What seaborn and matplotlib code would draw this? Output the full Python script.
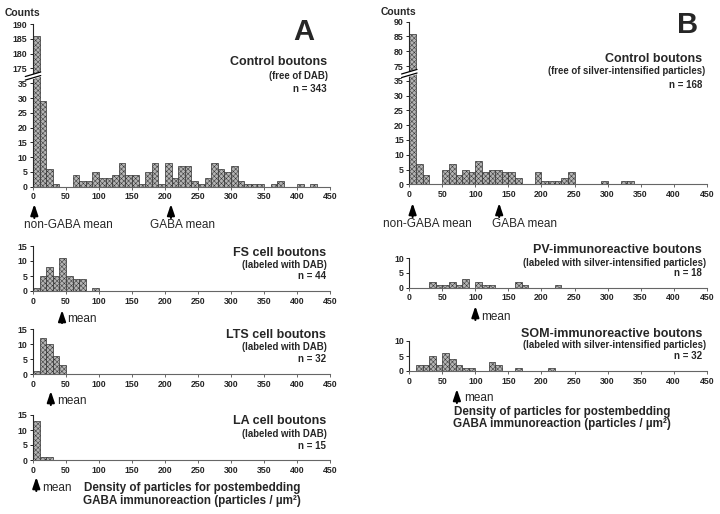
import numpy as np
import pandas as pd
import matplotlib
matplotlib.use("Agg")
import matplotlib.pyplot as plt
import matplotlib.transforms as mtransforms
import seaborn as sns

# ─────────────────────────────────────────────
# Data (counts per 10-unit bin, starting at 0)
# ─────────────────────────────────────────────
BIN_WIDTH = 10

A_CONTROL = [186, 29, 6, 1, 0, 0, 4, 2, 2, 5, 3, 3, 4, 8, 4, 4, 1, 5, 8, 1,
             8, 3, 7, 7, 2, 1, 3, 8, 6, 5, 7, 2, 1, 1, 1, 0, 1, 2, 0, 0,
             1, 0, 1]
A_FS = [1, 5, 8, 5, 11, 5, 4, 4, 0, 1]
A_LTS = [1, 12, 10, 6, 3]
A_LA = [13, 1, 1]

B_CONTROL = [86, 7, 3, 0, 0, 5, 7, 3, 5, 4, 8, 4, 5, 5, 4, 4, 2, 0, 0, 4,
             1, 1, 1, 2, 4, 0, 0, 0, 0, 1, 0, 0, 1, 1]
B_PV = [0, 0, 0, 2, 1, 1, 2, 1, 3, 0, 2, 1, 1, 0, 0, 0, 2, 1, 0, 0,
        0, 0, 1]
B_SOM = [0, 2, 2, 5, 2, 6, 4, 2, 1, 1, 0, 0, 3, 2, 0, 0, 1, 0, 0, 0,
         0, 1]

# mean markers (density units)
A_MEANS = {"non-GABA": 2, "GABA": 209, "FS": 44, "LTS": 27, "LA": 5}
B_MEANS = {"non-GABA": 5, "GABA": 136, "PV": 100, "SOM": 72}

A_TICKS_Y = [0, 5, 10, 15, 20, 25, 30, 35, 175, 180, 185, 190]
B_TICKS_Y = [0, 5, 10, 15, 20, 25, 30, 35, 75, 80, 85, 90]
X_TICKS = list(range(0, 451, 50))

W, H = 720, 514
BAR_KW = dict(color="#b4b4b4", edgecolor="#333333", linewidth=0.5,
              alpha=1, hatch="xxxxxxx")

# text sizes
TITLE_FS = 9
SUB_FS = 6.9
N_FS = 7
NOTE_FS = 8.5
TICK_FS = 6.3

sns.set_style("ticks")
plt.rcParams["font.family"] = ["Liberation Sans", "DejaVu Sans"]
plt.rcParams["hatch.linewidth"] = 0.35


def fx(px):
    return px / W


def fy(py):
    return 1 - py / H


def broken_scale(lo, hi, eps=1e-3):
    gap = hi - lo

    def fwd(y):
        y = np.asarray(y, float)
        return np.where(y <= lo, y,
                        np.where(y >= hi, y - gap + gap * eps,
                                 lo + (y - lo) * eps))

    def inv(d):
        d = np.asarray(d, float)
        top = lo + gap * eps
        return np.where(d <= lo, d,
                        np.where(d >= top, d + gap - gap * eps,
                                 lo + (d - lo) / eps))
    return fwd, inv


def make_panel(fig, counts, left, right, top, bottom, ymax, yticks,
               brk=None):
    ax = fig.add_axes([fx(left), fy(bottom), fx(right - left),
                       (bottom - top) / H])
    df = pd.DataFrame({
        "density": np.arange(len(counts)) * BIN_WIDTH + BIN_WIDTH / 2,
        "count": counts,
    })
    sns.histplot(data=df, x="density", weights="count", binwidth=BIN_WIDTH,
                 binrange=(0, BIN_WIDTH * len(counts)), ax=ax, **BAR_KW)
    if brk is not None:
        fwd, inv = broken_scale(*brk)
        ax.set_yscale("function", functions=(fwd, inv))
    ax.set_xlim(0, 450)
    ax.set_ylim(0, ymax)
    ax.set_xticks(X_TICKS)
    ax.set_yticks(yticks)
    ax.set_xlabel("")
    ax.set_ylabel("")
    ax.tick_params(axis="both", labelsize=TICK_FS, length=2.5, width=0.7,
                   pad=1.5)
    for lab in ax.get_xticklabels() + ax.get_yticklabels():
        lab.set_fontweight("bold")
    ax.xaxis.set_minor_locator(matplotlib.ticker.NullLocator())
    ax.yaxis.set_minor_locator(matplotlib.ticker.NullLocator())
    sns.despine(ax=ax)
    ax.spines["left"].set_linewidth(0.8)
    ax.spines["bottom"].set_linewidth(0.8)
    ax.spines["bottom"].set_color("#666666")
    ax.tick_params(axis="x", color="#666666")

    if brk is not None:
        # "//" break marks on the y axis
        fwd, _ = broken_scale(*brk)
        yb = float(fwd(brk[0]) / fwd(ymax))
        trans = ax.transAxes
        dx = 0.026
        xs = np.array([-dx, dx])
        ys = np.array([-0.014, 0.014])
        off = 0.011
        ax.fill_between(xs, yb + ys - off, yb + ys + off, color="white",
                        transform=trans, clip_on=False, zorder=5)
        for s in (-off, off):
            ax.plot(xs, yb + ys + s, color="black", lw=0.9,
                    transform=trans, clip_on=False, zorder=6)
    return ax


def arrow(fig, ax, xd, y_tail, y_head):
    tr = mtransforms.blended_transform_factory(ax.transData, fig.transFigure)
    ax.annotate("", xy=(xd, fy(y_head)), xytext=(xd, fy(y_tail)),
                xycoords=tr, textcoords=tr, annotation_clip=False,
                arrowprops=dict(arrowstyle="-|>,head_width=0.22,head_length=0.65",
                                color="black", lw=1.5, mutation_scale=10,
                                shrinkA=0, shrinkB=0))


def rtext(fig, x, y, s, size, weight="bold", ha="right"):
    fig.text(fx(x), fy(y), s, fontsize=size, fontweight=weight, ha=ha,
             va="center")


fig = plt.figure(figsize=(W / 100, H / 100), dpi=100)

# ── Panel A ──
axA = make_panel(fig, A_CONTROL, 33, 330, 24, 186.7, 190, A_TICKS_Y,
                 brk=(37.5, 172.5))
axFS = make_panel(fig, A_FS, 33, 330, 246, 291, 15, [0, 5, 10, 15])
axLTS = make_panel(fig, A_LTS, 33, 330, 329.3, 374.3, 15, [0, 5, 10, 15])
axLA = make_panel(fig, A_LA, 33, 330, 415, 460, 15, [0, 5, 10, 15])

# ── Panel B ──
axB = make_panel(fig, B_CONTROL, 409.3, 706.7, 21.7, 184.3, 90, B_TICKS_Y,
                 brk=(37.5, 72.5))
axPV = make_panel(fig, B_PV, 409.3, 706.7, 258, 287.5, 10, [0, 5, 10])
axSOM = make_panel(fig, B_SOM, 409.3, 706.7, 341, 371, 10, [0, 5, 10])

# ── Labels A ──
rtext(fig, 5, 13, "Counts", 7.5, ha="left")
rtext(fig, 304, 32, "A", 21, ha="center")
rtext(fig, 327, 62, "Control boutons", TITLE_FS)
rtext(fig, 328, 76, "(free of DAB)", SUB_FS)
rtext(fig, 327, 89, "n = 343", N_FS)
arrow(fig, axA, A_MEANS["non-GABA"], 218, 204)
arrow(fig, axA, A_MEANS["GABA"], 218, 204)
rtext(fig, 68, 225, "non-GABA mean", NOTE_FS, weight="normal", ha="center")
rtext(fig, 183, 225, "GABA mean", NOTE_FS, weight="normal", ha="center")

rtext(fig, 326, 253, "FS cell boutons", TITLE_FS)
rtext(fig, 327, 265, "(labeled with DAB)", SUB_FS)
rtext(fig, 326, 276, "n = 44", N_FS)
arrow(fig, axFS, A_MEANS["FS"], 323, 310)
rtext(fig, 67, 319, "mean", NOTE_FS, weight="normal", ha="left")

rtext(fig, 326, 334.5, "LTS cell boutons", TITLE_FS)
rtext(fig, 327, 347, "(labeled with DAB)", SUB_FS)
rtext(fig, 326, 358.5, "n = 32", N_FS)
arrow(fig, axLTS, A_MEANS["LTS"], 405, 391)
rtext(fig, 57, 401.5, "mean", NOTE_FS, weight="normal", ha="left")

rtext(fig, 326, 421.5, "LA cell boutons", TITLE_FS)
rtext(fig, 327, 434, "(labeled with DAB)", SUB_FS)
rtext(fig, 326, 446, "n = 15", N_FS)
arrow(fig, axLA, A_MEANS["LA"], 491, 477)
rtext(fig, 42, 488, "mean", NOTE_FS, weight="normal", ha="left")
rtext(fig, 192, 488, "Density of particles for postembedding", 8.4,
      ha="center")
rtext(fig, 192, 501, "GABA immunoreaction (particles / µm²)", 8.4,
      ha="center")

# ── Labels B ──
rtext(fig, 398, 12, "Counts", 7.5, ha="center")
rtext(fig, 688, 25, "B", 21, ha="center")
rtext(fig, 702, 59, "Control boutons", TITLE_FS)
rtext(fig, 705, 71, "(free of silver-intensified particles)", SUB_FS)
rtext(fig, 702, 85, "n = 168", N_FS)
arrow(fig, axB, B_MEANS["non-GABA"], 217, 203)
arrow(fig, axB, B_MEANS["GABA"], 217, 203)
rtext(fig, 427, 224, "non-GABA mean", NOTE_FS, weight="normal", ha="center")
rtext(fig, 525, 224, "GABA mean", NOTE_FS, weight="normal", ha="center")

rtext(fig, 702, 250, "PV-immunoreactive boutons", TITLE_FS)
rtext(fig, 706, 263, "(labeled with silver-intensified particles)", SUB_FS)
rtext(fig, 702, 273.5, "n = 18", N_FS)
arrow(fig, axPV, B_MEANS["PV"], 320, 306)
rtext(fig, 481, 317, "mean", NOTE_FS, weight="normal", ha="left")

rtext(fig, 702, 334, "SOM-immunoreactive boutons", TITLE_FS)
rtext(fig, 706, 345, "(labeled with silver-intensified particles)", SUB_FS)
rtext(fig, 702, 356, "n = 32", N_FS)
arrow(fig, axSOM, B_MEANS["SOM"], 403, 389)
rtext(fig, 464, 398, "mean", NOTE_FS, weight="normal", ha="left")
rtext(fig, 562, 411.5, "Density of particles for postembedding", 8.4,
      ha="center")
rtext(fig, 562, 423.5, "GABA immunoreaction (particles / µm²)", 8.4,
      ha="center")

fig.savefig("out.png", dpi=100)
